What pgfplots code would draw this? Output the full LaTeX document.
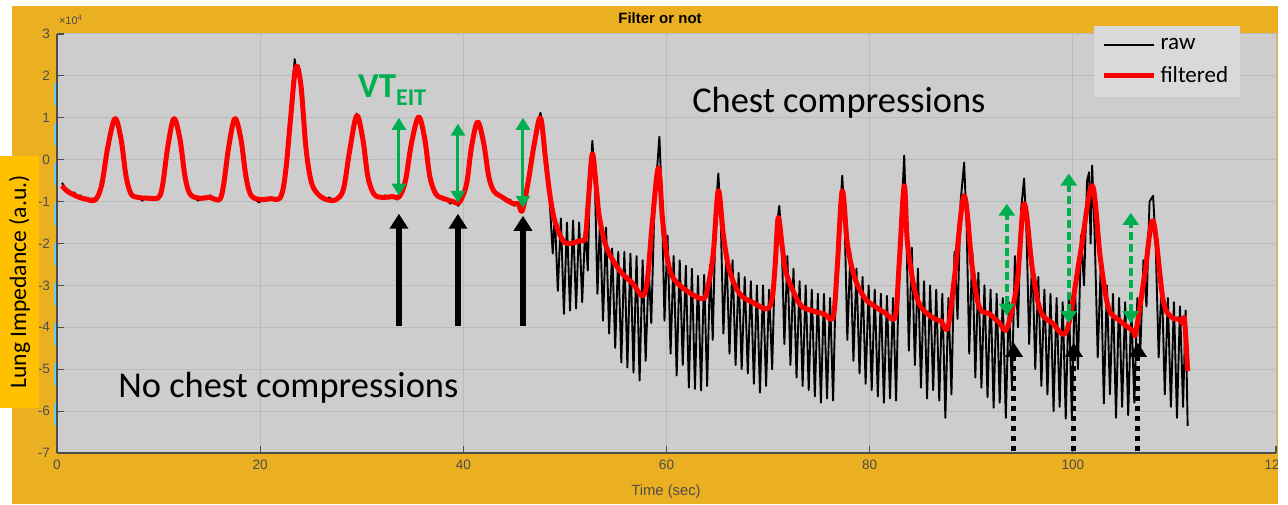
\documentclass[border=0pt]{standalone}
\usepackage{pgfplots}
\pgfplotsset{compat=1.18}
\usepackage{fontspec}
\setmainfont{Liberation Sans}
\newfontfamily\calibri{Carlito}
\usetikzlibrary{arrows.meta}
\definecolor{frame}{HTML}{EBB022}
\definecolor{lab}{HTML}{FFC000}
\definecolor{plotbg}{HTML}{CDCDCD}
\definecolor{gridc}{HTML}{BBBBBB}
\definecolor{tickc}{HTML}{4D4D4D}
\definecolor{vtgreen}{HTML}{00B050}
\definecolor{legbg}{HTML}{D9D9D9}
\begin{document}
\begin{tikzpicture}
\useasboundingbox (-28.5pt,-25.5pt) rectangle (615.5pt,226.5pt);
\fill[white] (-28.5pt,-25.5pt) rectangle (615.5pt,226.5pt);
\fill[frame] (-22.5pt,-25.5pt) rectangle (610.5pt,223.5pt);
\begin{axis}[
  at={(0pt,0pt)}, anchor=south west, scale only axis,
  width=609.5pt, height=209.5pt,
  xmin=0, xmax=120, ymin=-7, ymax=3,
  xtick={0,20,...,120}, ytick={-7,-6,...,3},
  grid=major, major grid style={color=gridc, line width=0.5pt},
  axis background/.style={fill=plotbg},
  axis x line*=bottom, axis y line*=left,
  axis line style={color=tickc, line width=0.8pt},
  tick align=inside, major tick length=3.5pt,
  tick style={color=tickc, line width=0.6pt},
  ticklabel style={font=\fontsize{6.8}{8}\selectfont, color=tickc},
  /pgf/number format/assume math mode=true,
  legend style={at={(0.85,1.02)}, anchor=north west, fill=legbg, draw=none,
    font=\calibri\fontsize{11.5}{13}\selectfont, inner xsep=4pt, inner ysep=4pt,
    row sep=3pt},
  legend cell align=left,
  legend image code/.code={\draw[#1] (0pt,0pt) -- (25pt,0pt);},
]
\addplot[black, line width=0.95pt, line join=round] table {
0.5 -0.55
0.8 -0.7
1.1 -0.72
1.4 -0.82
1.7 -0.78
2.0 -0.9
2.3 -0.85
2.6 -0.95
2.9 -0.9
3.2 -1.0
3.5 -0.92
3.8 -0.98
4.2 -0.7
4.6 -0.3
5.0 0.35
5.4 0.85
5.7 1.0
6.0 0.85
6.4 0.3
6.8 -0.4
7.2 -0.82
7.6 -0.9
8.0 -0.86
8.4 -0.98
8.8 -0.88
9.2 -0.95
9.6 -0.9
10.0 -0.95
10.4 -0.55
10.8 0.2
11.2 0.8
11.5 1.0
11.9 0.7
12.3 0.0
12.7 -0.55
13.1 -0.85
13.5 -0.9
13.9 -0.98
14.3 -0.88
14.7 -0.95
15.1 -0.85
15.5 -0.95
15.9 -1.0
16.3 -0.7
16.7 0.0
17.1 0.6
17.5 1.0
17.9 0.7
18.3 0.0
18.7 -0.55
19.1 -0.85
19.5 -0.95
19.9 -1.02
20.3 -0.92
20.7 -0.98
21.1 -0.9
21.5 -0.96
21.9 -0.88
22.3 -0.6
22.7 0.3
23.1 1.5
23.4 2.4
23.6 2.0
23.8 2.25
24.1 1.5
24.4 0.5
24.8 -0.2
25.2 -0.6
25.6 -0.8
26.0 -0.88
26.4 -0.98
26.8 -0.9
27.2 -0.98
27.6 -0.92
28.0 -0.8
28.4 -0.4
28.8 0.2
29.2 0.8
29.5 1.1
29.9 0.75
30.3 0.1
30.7 -0.45
31.1 -0.8
31.5 -0.88
31.9 -0.92
32.3 -0.85
32.7 -0.93
33.1 -0.85
33.5 -0.95
33.9 -0.8
34.3 -0.45
34.7 0.1
35.1 0.7
35.5 1.05
35.9 0.8
36.3 0.2
36.7 -0.4
37.1 -0.8
37.5 -0.9
37.9 -0.95
38.3 -0.92
38.7 -1.05
39.1 -0.98
39.5 -1.1
39.9 -0.95
40.3 -0.6
40.7 0.1
41.1 0.65
41.4 0.92
41.8 0.6
42.2 0.0
42.6 -0.45
43.0 -0.78
43.4 -0.85
43.8 -0.9
44.2 -1.0
44.6 -0.95
45.0 -1.1
45.4 -1.05
45.8 -1.25
46.2 -0.8
46.6 0.0
47.0 0.5
47.3 0.9
47.6 1.12
47.9 0.6
48.2 -0.2
48.5 -1.0
48.8 -2.24
49.0 -1.3
49.3 -3.13
49.6 -1.4
49.9 -3.68
50.2 -1.5
50.5 -3.6
50.8 -1.45
51.1 -3.55
51.4 -1.5
51.7 -3.4
52.0 -1.6
52.25 -2.65
52.45 -0.6
52.7 0.45
52.95 -0.5
53.2 -3.2
53.45 -1.46
53.75 -3.84
54.05 -1.62
54.35 -4.15
54.65 -2.12
54.95 -4.49
55.25 -2.2
55.55 -4.84
55.85 -2.2
56.15 -4.96
56.45 -2.24
56.75 -5.08
57.05 -2.3
57.35 -5.27
57.65 -2.4
57.95 -4.8
58.25 -2.6
58.5 -3.9
58.8 -1.2
59.05 -0.3
59.3 0.55
59.55 -1.0
59.8 -3.84
60.1 -1.81
60.4 -4.63
60.7 -2.3
61.0 -5.15
61.3 -2.4
61.6 -4.9
61.9 -2.53
62.2 -5.44
62.5 -2.6
62.8 -5.47
63.1 -2.77
63.4 -5.51
63.7 -2.75
64.0 -5.4
64.3 -2.5
64.55 -4.3
64.85 -1.2
65.1 -0.33
65.35 -1.5
65.6 -4.15
65.9 -2.2
66.2 -4.63
66.5 -2.4
66.8 -4.9
67.1 -2.7
67.4 -5.0
67.7 -2.8
68.0 -5.1
68.3 -2.9
68.6 -5.35
68.9 -3.0
69.2 -5.56
69.5 -3.0
69.8 -5.4
70.1 -3.1
70.4 -5.0
70.7 -2.2
70.9 -1.5
71.1 -1.1
71.35 -2.0
71.6 -4.4
71.9 -2.3
72.2 -4.9
72.5 -2.6
72.8 -5.2
73.1 -2.9
73.4 -5.4
73.7 -3.0
74.0 -5.5
74.3 -3.1
74.6 -5.65
74.9 -3.2
75.2 -5.8
75.5 -3.2
75.8 -5.7
76.1 -3.3
76.4 -5.75
76.7 -2.6
77.0 -1.6
77.3 -0.38
77.55 -1.6
77.8 -4.3
78.1 -2.2
78.4 -4.8
78.7 -2.6
79.0 -5.1
79.3 -2.8
79.6 -5.35
79.9 -3.0
80.2 -5.5
80.5 -3.1
80.8 -5.65
81.1 -3.2
81.4 -5.8
81.7 -3.25
82.0 -5.7
82.3 -3.3
82.6 -5.75
82.9 -2.5
83.15 -1.2
83.4 0.1
83.6 -1.5
83.85 -4.56
84.15 -2.1
84.45 -4.9
84.75 -2.6
85.05 -5.44
85.35 -2.9
85.65 -5.7
85.95 -3.0
86.25 -5.5
86.55 -3.1
86.85 -5.75
87.15 -3.2
87.45 -6.16
87.75 -3.3
88.05 -5.6
88.35 -2.2
88.65 -3.8
88.95 -1.0
89.3 -0.07
89.55 -1.6
89.8 -4.63
90.1 -2.2
90.4 -5.2
90.7 -2.7
91.0 -5.44
91.3 -3.0
91.6 -5.67
91.9 -3.1
92.2 -5.92
92.5 -3.2
92.8 -5.8
93.1 -3.3
93.4 -6.16
93.7 -3.4
94.0 -5.4
94.3 -2.3
94.6 -4.0
94.9 -1.2
95.2 -0.45
95.45 -1.8
95.7 -4.4
96.0 -2.3
96.3 -5.0
96.6 -2.8
96.9 -5.4
97.2 -3.1
97.5 -5.6
97.8 -3.2
98.1 -6.0
98.4 -3.3
98.7 -5.9
99.0 -3.4
99.3 -6.18
99.6 -3.2
99.9 -6.16
100.2 -3.0
100.5 -5.0
100.8 -1.8
101.1 -3.0
101.4 -0.5
101.6 -0.3
101.75 -2.0
101.9 -0.14
102.15 -1.8
102.45 -4.72
102.75 -2.5
103.05 -5.82
103.35 -3.0
103.65 -5.6
103.95 -3.2
104.25 -6.16
104.55 -3.3
104.85 -5.9
105.15 -3.4
105.45 -6.1
105.75 -3.5
106.05 -5.8
106.35 -3.3
106.65 -4.5
106.95 -2.4
107.25 -3.5
107.55 -1.0
107.9 -0.86
108.15 -2.0
108.45 -4.72
108.75 -2.8
109.05 -5.6
109.35 -3.3
109.65 -5.9
109.95 -3.4
110.25 -6.16
110.55 -3.5
110.85 -5.9
111.1 -3.6
111.3 -6.35
};
\addlegendentry{raw}
\addplot[red, line width=2.5pt, line join=round, smooth, tension=0.55] table {
0.5 -0.62
1 -0.75
2 -0.88
3 -0.95
3.8 -0.95
4.4 -0.6
5.0 0.3
5.7 0.98
6.3 0.5
6.8 -0.4
7.3 -0.82
8 -0.9
9 -0.92
10 -0.9
10.4 -0.6
10.9 0.3
11.5 0.98
12.1 0.5
12.6 -0.4
13.1 -0.82
14 -0.92
15 -0.9
16 -0.95
16.4 -0.6
16.9 0.3
17.5 0.98
18.1 0.5
18.6 -0.4
19.1 -0.85
20 -0.95
21 -0.93
22 -0.9
22.5 -0.3
23 1.0
23.5 2.2
24 1.8
24.5 0.3
25 -0.5
25.6 -0.8
26.5 -0.95
27.5 -0.95
28.2 -0.7
28.8 0.2
29.5 1.05
30.1 0.5
30.6 -0.4
31.2 -0.82
32 -0.9
33 -0.88
33.7 -0.88
34.3 -0.5
34.9 0.4
35.6 1.02
36.2 0.5
36.7 -0.4
37.3 -0.82
38 -0.92
39 -1.0
39.6 -1.02
40.3 -0.6
40.8 0.3
41.4 0.9
42.0 0.4
42.5 -0.4
43.0 -0.75
43.6 -0.86
44.9 -1.05
45.4 -1.05
45.8 -1.22
46.4 -0.5
47 0.4
47.6 1.0
48.1 0.0
48.5 -0.81
49 -1.46
49.8 -1.93
50.5 -2.0
51.5 -1.93
52 -1.86
52.3 -1.0
52.7 0.14
53.1 -0.7
53.4 -1.38
54.1 -2.1
55.4 -2.65
56.7 -2.96
57.6 -3.25
58.1 -2.9
58.6 -1.5
59.2 -0.19
59.6 -1.4
60 -2.24
60.6 -2.8
62 -3.13
63.6 -3.32
64.1 -3.0
64.6 -2.24
65.1 -0.74
65.6 -1.8
66.2 -2.65
67.2 -3.2
68.5 -3.41
69.9 -3.56
70.4 -3.3
70.7 -2.5
71.0 -1.38
71.4 -2.1
71.8 -2.72
73.1 -3.44
74.3 -3.6
75.5 -3.68
76.4 -3.75
76.8 -2.6
77.3 -0.74
77.8 -2.0
78.5 -2.8
79.5 -3.3
80.5 -3.5
81.5 -3.65
82.5 -3.75
82.9 -2.5
83.4 -0.62
83.7 -1.93
84.3 -2.96
85.0 -3.5
86.2 -3.77
87.0 -3.85
87.7 -4.0
88.4 -2.7
89.3 -0.86
90.1 -2.58
90.8 -3.53
91.8 -3.68
92.8 -3.9
93.5 -4.03
94.5 -2.96
95.2 -1.05
96.0 -2.58
96.8 -3.6
98.0 -3.9
99.4 -4.08
100.7 -2.3
101.9 -0.62
102.7 -2.34
103.5 -3.53
104.6 -3.84
105.9 -4.08
106.2 -4.12
107.1 -2.7
107.9 -1.46
108.9 -3.37
109.8 -3.77
110.4 -3.8
110.8 -3.9
111.0 -3.82
111.3 -5.04
};
\addlegendentry{filtered}
% green solid VT arrows
\draw[vtgreen, line width=1.5pt, {Triangle[width=7pt,length=6pt]}-{Triangle[width=7pt,length=6pt]}] (axis cs:33.66,-0.86) -- (axis cs:33.66,1.0);
\draw[vtgreen, line width=1.5pt, {Triangle[width=7pt,length=6pt]}-{Triangle[width=7pt,length=6pt]}] (axis cs:39.47,-1.03) -- (axis cs:39.47,0.86);
\draw[vtgreen, line width=1.5pt, {Triangle[width=7pt,length=6pt]}-{Triangle[width=7pt,length=6pt]}] (axis cs:45.87,-1.15) -- (axis cs:45.87,1.0);
% black solid arrows
\draw[black, line width=3pt, -{Triangle[width=9pt,length=7.5pt]}] (axis cs:33.66,-3.96) -- (axis cs:33.66,-1.29);
\draw[black, line width=3pt, -{Triangle[width=9pt,length=7.5pt]}] (axis cs:39.47,-3.96) -- (axis cs:39.47,-1.29);
\draw[black, line width=3pt, -{Triangle[width=9pt,length=7.5pt]}] (axis cs:45.87,-3.96) -- (axis cs:45.87,-1.34);
% green dashed arrows
\draw[vtgreen, line width=2pt, dash pattern=on 4pt off 2pt, {Triangle[width=8pt,length=6pt]}-{Triangle[width=8pt,length=6pt]}] (axis cs:93.5,-3.72) -- (axis cs:93.5,-1.05);
\draw[vtgreen, line width=2pt, dash pattern=on 4pt off 2pt, {Triangle[width=8pt,length=6pt]}-{Triangle[width=8pt,length=6pt]}] (axis cs:99.6,-3.9) -- (axis cs:99.6,-0.33);
\draw[vtgreen, line width=2pt, dash pattern=on 4pt off 2pt, {Triangle[width=8pt,length=6pt]}-{Triangle[width=8pt,length=6pt]}] (axis cs:105.7,-3.9) -- (axis cs:105.7,-1.27);
% black dotted arrows
\draw[black, line width=2.5pt, dash pattern=on 2.5pt off 2.5pt, -{Triangle[width=8.5pt,length=7pt]}] (axis cs:94.2,-6.95) -- (axis cs:94.2,-4.37);
\draw[black, line width=2.5pt, dash pattern=on 2.5pt off 2.5pt, -{Triangle[width=8.5pt,length=7pt]}] (axis cs:100.1,-6.95) -- (axis cs:100.1,-4.37);
\draw[black, line width=2.5pt, dash pattern=on 2.5pt off 2.5pt, -{Triangle[width=8.5pt,length=7pt]}] (axis cs:106.4,-6.95) -- (axis cs:106.4,-4.37);
% texts
\node[anchor=base west, inner sep=0pt, text=vtgreen, font=\calibri\bfseries\fontsize{17.5}{18}\selectfont] at (axis cs:29.6,1.48) {VT\raisebox{-4pt}{\fontsize{12}{12}\selectfont EIT}};
\node[anchor=base west, inner sep=0pt, font=\calibri\fontsize{18.2}{19}\selectfont] at (axis cs:62.5,1.12) {Chest compressions};
\node[anchor=base west, inner sep=0pt, font=\calibri\fontsize{18.2}{19}\selectfont] at (axis cs:6.0,-5.68) {No chest compressions};
\end{axis}
\fill[white] (610.5pt,-25.5pt) rectangle (615.5pt,226.5pt);
\fill[lab] (-28.5pt,22.5pt) rectangle (-9pt,148.5pt);
\node[rotate=90, font=\calibri\fontsize{11.8}{13}\selectfont] at (-18.75pt,85.5pt) {Lung Impedance (a.u.)};
\node[font=\bfseries\fontsize{7.5}{9}\selectfont] at (301.5pt,217.5pt) {Filter or not};
\node[font=\fontsize{7.4}{9}\selectfont, text=tickc] at (304.5pt,-19.5pt) {Time (sec)};
\node[font=\fontsize{5.5}{6}\selectfont, text=tickc, inner sep=0pt] at (7pt,216.5pt) {×10\textsuperscript{4}};
\draw[cyan!60!white, line width=0.75pt, dash pattern=on 11pt off 9pt] (-0.9pt,185pt) -- (-0.9pt,13pt);
\end{tikzpicture}
\end{document}
